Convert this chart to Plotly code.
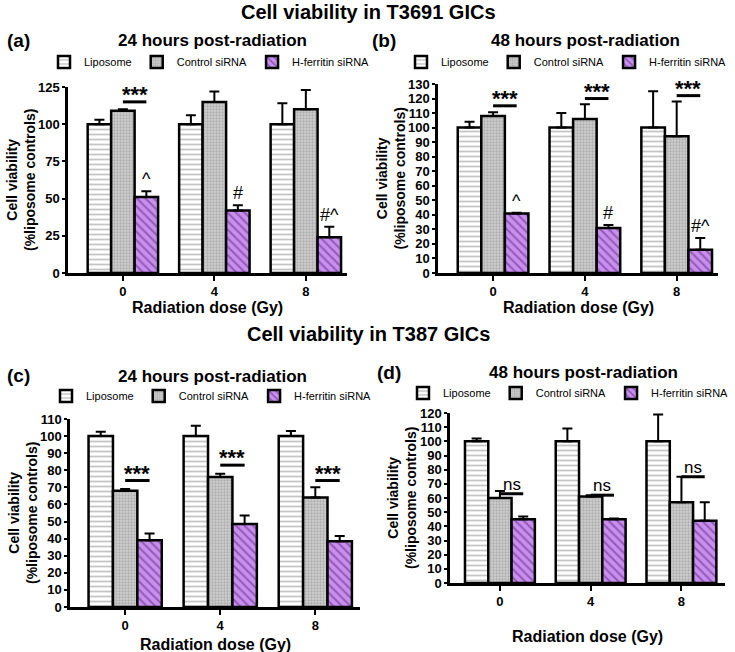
import plotly.graph_objects as go

doses = ["0", "4", "8"]
series_names = ["Liposome", "Control siRNA", "H-ferritin siRNA"]

# Panel (a): T3691, 24 h
a_lip = [100, 100, 100]; a_lip_err = [3, 6, 14]
a_ctl = [109, 115, 110]; a_ctl_err = [1, 7, 13]
a_hf = [51, 42, 24];     a_hf_err = [4, 3.5, 7]
a_sig = [115, 127, 128]; a_sig_txt = ["***", "***", "***"]
a_marks = ["^", "#", "#^"]

# Panel (b): T3691, 48 h
b_lip = [100, 100, 100]; b_lip_err = [4, 10, 25]
b_ctl = [108, 106, 94];  b_ctl_err = [2.5, 10, 24]
b_hf = [41, 31, 16];     b_hf_err = [0.5, 2, 8]
b_sig = [115, 120, 122]; b_sig_txt = ["***", "***", "***"]
b_marks = ["^", "#", "#^"]

# Panel (c): T387, 24 h
c_lip = [100, 100, 100]; c_lip_err = [2.5, 6, 3]
c_ctl = [68, 76, 64];    c_ctl_err = [1, 2, 6]
c_hf = [39, 48.5, 38.5]; c_hf_err = [4, 5, 3]
c_sig = [74, 83, 74];    c_sig_txt = ["***", "***", "***"]

# Panel (d): T387, 48 h
d_lip = [100, 100, 100]; d_lip_err = [2, 9, 19]
d_ctl = [60, 61, 57];    d_ctl_err = [5, 1, 18]
d_hf = [45, 45, 44];     d_hf_err = [2, 0.5, 13]
d_sig = [63, 62, 75];    d_sig_txt = ["ns", "ns", "ns"]

W, H = 735, 652
FONT = "Liberation Sans, Arial, sans-serif"
BARGAP = 0.23
BW = (1 - BARGAP) / 3

def px_x(p):
    return p / W

def px_y(p):
    return 1 - p / H

panels = [
    dict(key="", lab="(a)", title="24 hours post-radiation",
         data=[(a_lip, a_lip_err), (a_ctl, a_ctl_err), (a_hf, a_hf_err)],
         sig=a_sig, sigt=a_sig_txt, marks=a_marks,
         xd=(68, 347), yd=(273, 87), yr=(0, 125), dt=25, xr=(-0.6, 2.45),
         tl=(5, 41), tt=(212, 41), leg=(44, 62), xt=308, yt=21),
    dict(key="2", lab="(b)", title="48 hours post-radiation",
         data=[(b_lip, b_lip_err), (b_ctl, b_ctl_err), (b_hf, b_hf_err)],
         sig=b_sig, sigt=b_sig_txt, marks=b_marks,
         xd=(438, 718), yd=(273, 84), yr=(0, 130), dt=10, xr=(-0.6, 2.45),
         tl=(370, 41), tt=(585, 41), leg=(401, 62), xt=308, yt=390),
    dict(key="3", lab="(c)", title="24 hours post-radiation",
         data=[(c_lip, c_lip_err), (c_ctl, c_ctl_err), (c_hf, c_hf_err)],
         sig=c_sig, sigt=c_sig_txt, marks=None,
         xd=(70, 360), yd=(607, 419), yr=(0, 110), dt=10, xr=(-0.58, 2.47),
         tl=(5, 375), tt=(212, 376), leg=(46, 396), xt=644, yt=23),
    dict(key="4", lab="(d)", title="48 hours post-radiation",
         data=[(d_lip, d_lip_err), (d_ctl, d_ctl_err), (d_hf, d_hf_err)],
         sig=d_sig, sigt=d_sig_txt, marks=None,
         xd=(450, 725), yd=(583, 413), yr=(0, 120), dt=10, xr=(-0.55, 2.48),
         tl=(375, 372), tt=(583, 372), leg=(403, 393), xt=636, yt=402),
]

styles = [
    dict(shape="-", fgcolor="#8a8a8a", bgcolor="#ffffff", size=5, solidity=0.35),
    dict(shape=".", fgcolor="#8c8c8c", bgcolor="#cfcfcf", size=3, solidity=0.45),
    dict(shape="\\", fgcolor="#5b2a78", bgcolor="#c98ef0", size=6, solidity=0.35),
]

fig = go.Figure()
annotations = []
shapes = []
layout = {}

for p in panels:
    k = p["key"]
    xa, ya = "x" + k, "y" + k
    legname = "legend" + k
    xpos = [0, 1, 2]
    for i, (vals, errs) in enumerate(p["data"]):
        fig.add_trace(go.Bar(
            x=xpos, y=vals, name=series_names[i], xaxis=xa, yaxis=ya,
            legend=legname, showlegend=True,
            marker=dict(pattern=styles[i], line=dict(color="black", width=2.5)),
            error_y=dict(type="data", array=errs, arrayminus=[0] * len(errs),
                         symmetric=False, color="black", thickness=2, width=5),
        ))
    layout["xaxis" + k] = dict(
        domain=[px_x(p["xd"][0]), px_x(p["xd"][1])], anchor=ya,
        range=list(p["xr"]), tickvals=xpos, ticktext=doses, automargin=False,
        showline=True, linecolor="black", linewidth=2.5, ticks="outside",
        ticklen=5, tickwidth=2, tickcolor="black", showgrid=False, zeroline=False,
        tickfont=dict(family=FONT, size=13, color="black", weight="bold"),
        fixedrange=True,
    )
    layout["yaxis" + k] = dict(
        domain=[px_y(p["yd"][0]), px_y(p["yd"][1])], anchor=xa,
        range=list(p["yr"]), dtick=p["dt"], tick0=0, automargin=False,
        showline=True, linecolor="black", linewidth=2.5, ticks="outside",
        ticklen=3, tickwidth=2, tickcolor="black", showgrid=False, zeroline=False,
        tickfont=dict(family=FONT, size=13, color="black", weight="bold"),
        fixedrange=True,
    )
    layout[legname] = dict(
        orientation="h", x=px_x(p["leg"][0]), y=px_y(p["leg"][1]),
        xanchor="left", yanchor="middle", bgcolor="rgba(0,0,0,0)",
        font=dict(family=FONT, size=11, color="black"),
        itemwidth=30, tracegroupgap=0, traceorder="normal",
    )
    annotations.append(dict(text="Cell viability<br>(%liposome controls)",
                            xref="paper", yref="paper", textangle=-90,
                            x=px_x(p["yt"]), y=(px_y(p["yd"][0]) + px_y(p["yd"][1])) / 2,
                            xanchor="center", yanchor="middle", showarrow=False,
                            font=dict(family=FONT, size=14, color="black", weight="bold")))
    annotations.append(dict(text=p["lab"], xref="paper", yref="paper",
                            x=px_x(p["tl"][0]), y=px_y(p["tl"][1]),
                            xanchor="left", yanchor="middle", showarrow=False,
                            font=dict(family=FONT, size=19, color="black", weight="bold")))
    annotations.append(dict(text=p["title"], xref="paper", yref="paper",
                            x=px_x(p["tt"][0]), y=px_y(p["tt"][1]),
                            xanchor="center", yanchor="middle", showarrow=False,
                            font=dict(family=FONT, size=17, color="black", weight="bold")))
    annotations.append(dict(text="Radiation dose (Gy)", xref="paper", yref="paper",
                            x=(px_x(p["xd"][0]) + px_x(p["xd"][1])) / 2, y=px_y(p["xt"]),
                            xanchor="center", yanchor="middle", showarrow=False,
                            font=dict(family=FONT, size=16, color="black", weight="bold")))
    for j, (sy, st) in enumerate(zip(p["sig"], p["sigt"])):
        x0, x1 = xpos[j], xpos[j] + BW
        shapes.append(dict(type="line", xref=xa, yref=ya, x0=x0, x1=x1, y0=sy, y1=sy,
                           line=dict(color="black", width=3)))
        is_star = st == "***"
        annotations.append(dict(text=st, xref=xa, yref=ya, x=(x0 + x1) / 2, y=sy,
                                xanchor="center", yanchor="bottom", showarrow=False,
                                yshift=-7 if is_star else -2,
                                font=dict(family=FONT, size=22 if is_star else 17,
                                          color="black",
                                          weight="bold" if is_star else "normal")))
    if p["marks"]:
        hf_vals, hf_errs = p["data"][2]
        for j, m in enumerate(p["marks"]):
            annotations.append(dict(text=m, xref=xa, yref=ya, x=xpos[j] + BW,
                                    y=hf_vals[j] + hf_errs[j], xanchor="center",
                                    yanchor="bottom", showarrow=False, yshift=0,
                                    font=dict(family=FONT, size=18, color="black")))

annotations.append(dict(text="Cell viability in T3691 GICs", xref="paper", yref="paper",
                        x=px_x(368), y=px_y(12), xanchor="center", yanchor="middle",
                        showarrow=False,
                        font=dict(family=FONT, size=20, color="black", weight="bold")))
annotations.append(dict(text="Cell viability in T387 GICs", xref="paper", yref="paper",
                        x=px_x(368), y=px_y(334), xanchor="center", yanchor="middle",
                        showarrow=False,
                        font=dict(family=FONT, size=20, color="black", weight="bold")))

fig.update_layout(
    width=W, height=H, margin=dict(l=0, r=0, t=0, b=0, autoexpand=False),
    paper_bgcolor="white", plot_bgcolor="white",
    barmode="group", bargap=BARGAP, bargroupgap=0,
    annotations=annotations, shapes=shapes,
    font=dict(family=FONT, color="black"),
    **layout,
)

fig.write_html("out.html", config={"displayModeBar": False},
               post_script="document.body.style.margin='0';document.body.style.overflow='hidden';")
